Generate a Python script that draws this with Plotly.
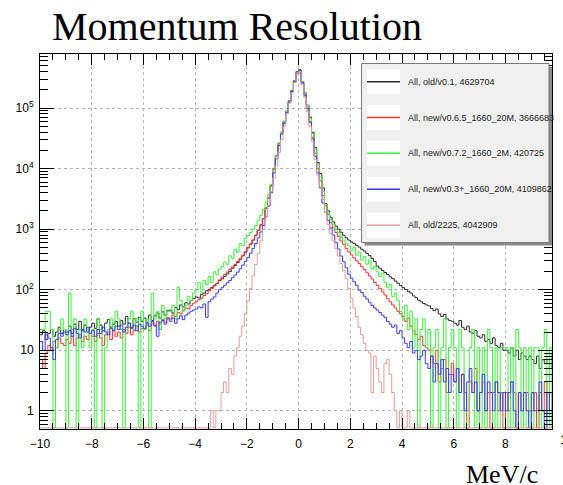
import numpy as np
import plotly.graph_objects as go

# ---------------- data (bin width 0.1, from -10 to 10) ----------------
bin_lo = -10.0
bin_hi = 10.0

legend_names = [
    "All, old/v0.1, 4629704",
    "All, new/v0.6.5_1660_20M, 3666683",
    "All, new/v0.7.2_1660_2M, 420725",
    "All, new/v0.3+_1660_20M, 4109862",
    "All, old/2225, 4042909",
]

old_v01 = [
    18, 21, 15, 19, 22, 17, 20, 24, 19, 22,
    20, 25, 19, 27, 22, 30, 21, 26, 20, 24,
    28, 23, 33, 26, 21, 28, 32, 24, 27, 30,
    25, 31, 27, 36, 28, 24, 33, 29, 35, 30,
    34, 29, 38, 31, 37, 41, 34, 43, 38, 45,
    46, 41, 51, 47, 56, 52, 61, 58, 66, 71,
    76, 73, 83, 88, 96, 101, 109, 119, 126, 141,
    151, 166, 182, 199, 226, 252, 281, 318, 362, 418,
    490, 565, 660, 790, 950, 1170, 1480, 2240, 3300, 5250,
    10000, 16600, 26300, 39800, 60300, 89100, 132000, 195000, 282000, 400000,
    430000, 272000, 178000, 112000, 70800, 39800, 22400, 12600, 8300, 4800,
    2630, 2000, 1580, 1320, 1120, 1000, 890, 790, 720, 660,
    615, 580, 540, 505, 465, 435, 398, 365, 328, 292,
    245, 226, 208, 192, 178, 163, 152, 139, 128, 117,
    108, 101, 94, 88, 79, 74, 67, 63, 59, 56,
    54, 49, 45, 48, 40, 36, 39, 33, 31, 30,
    28, 26, 31, 24, 22, 25, 20, 19, 21, 17,
    16, 18, 14, 15, 13, 16, 12, 11, 13, 10,
    10, 9, 11, 8, 10, 7, 9, 8, 7, 8,
    7, 6, 8, 5, 7, 6, 7, 5, 9, 11,
]

new_v065 = [
    7, 5, 9, 12, 10, 14, 11, 16, 13, 12,
    15, 13, 17, 12, 16, 18, 14, 17, 15, 19,
    17, 14, 19, 16, 12, 18, 20, 15, 21, 17,
    20, 16, 22, 19, 24, 18, 21, 25, 20, 23,
    22, 26, 21, 28, 25, 30, 27, 32, 29, 35,
    33, 38, 36, 42, 40, 46, 50, 48, 55, 60,
    63, 68, 72, 80, 86, 95, 105, 115, 128, 145,
    162, 178, 196, 215, 238, 262, 292, 330, 372, 425,
    495, 570, 665, 795, 955, 1175, 1490, 2200, 3250, 5150,
    9700, 16000, 25500, 38500, 58000, 86000, 127000, 186000, 268000, 370000,
    380000, 248000, 160000, 98000, 60000, 33000, 18000, 10000, 6300, 3600,
    2400, 1750, 1280, 1050, 880, 760, 640, 560, 480, 420,
    375, 335, 300, 270, 240, 215, 190, 168, 150, 132,
    118, 104, 92, 82, 72, 63, 56, 50, 44, 40,
    36, 30, 34, 25, 21, 18, 15, 17, 12, 11,
    10, 8, 6, 10, 3, 5, 7, 2, 4, 6,
    3, 5, 2, 4, 2, 0, 3, 2, 5, 1,
    2, 3, 1, 2, 0, 2, 3, 1, 2, 0,
    2, 1, 3, 2, 0, 2, 1, 2, 2, 1,
    1, 2, 0, 2, 1, 3, 1, 2, 0, 2,
]

new_v072 = [
    22, 22, 44, 44, 22, 0, 11, 22, 33, 22,
    0, 88, 22, 33, 0, 22, 11, 33, 22, 11,
    22, 0, 33, 22, 0, 11, 22, 33, 22, 44,
    33, 22, 0, 22, 33, 44, 22, 33, 0, 44,
    22, 33, 0, 88, 33, 44, 22, 55, 33, 44,
    44, 55, 33, 110, 66, 44, 55, 77, 66, 88,
    99, 132, 88, 143, 121, 165, 132, 198, 176, 220,
    242, 286, 264, 363, 330, 462, 418, 583, 539, 704,
    780, 880, 1000, 1150, 1400, 1700, 2100, 2750, 3700, 5500,
    9900, 16500, 26400, 40000, 60500, 88000, 130000, 192000, 278000, 395000,
    420000, 270000, 176000, 110000, 68000, 38000, 21000, 12000, 7500, 4300,
    2500, 1900, 1450, 1210, 990, 880, 748, 660, 572, 528,
    440, 506, 374, 418, 308, 352, 264, 308, 220, 242,
    198, 165, 187, 132, 110, 121, 77, 88, 66, 44,
    33, 55, 22, 44, 11, 33, 0, 22, 33, 11,
    22, 0, 11, 22, 0, 11, 33, 0, 11, 22,
    11, 0, 22, 11, 0, 0, 11, 22, 0, 11,
    0, 11, 0, 22, 11, 0, 11, 0, 11, 11,
    11, 0, 11, 0, 22, 11, 0, 11, 0, 11,
    0, 11, 11, 0, 11, 22, 0, 11, 0, 11,
]

new_v03 = [
    14, 10, 18, 16, 11, 7, 15, 19, 17, 20,
    18, 21, 17, 23, 19, 16, 22, 20, 24, 19,
    21, 17, 22, 19, 24, 20, 18, 23, 21, 25,
    22, 26, 20, 24, 28, 23, 26, 21, 27, 25,
    23, 28, 25, 30, 26, 17, 29, 31, 27, 33,
    30, 34, 28, 33, 37, 32, 38, 41, 44, 46,
    48, 52, 50, 58, 35, 63, 70, 76, 88, 100,
    108, 118, 130, 142, 158, 175, 195, 222, 255, 295,
    340, 400, 480, 580, 720, 900, 1150, 1600, 2400, 4000,
    8500, 14500, 24000, 37000, 56000, 84000, 126000, 188000, 275000, 392000,
    415000, 262000, 165000, 100000, 58000, 31000, 16000, 8500, 4800, 2700,
    1900, 1400, 1050, 800, 600, 470, 360, 290, 230, 180,
    155, 135, 118, 98, 90, 78, 70, 62, 55, 50,
    46, 42, 38, 35, 30, 27, 24, 26, 19, 21,
    16, 13, 11, 14, 9, 10, 7, 8, 10, 6,
    5, 8, 3, 6, 4, 7, 3, 5, 2, 4,
    3, 5, 2, 4, 1, 3, 5, 2, 3, 1,
    2, 4, 1, 3, 2, 1, 3, 2, 1, 2,
    1, 2, 3, 1, 0, 2, 1, 2, 1, 0,
    2, 1, 1, 3, 1, 0, 2, 1, 1, 2,
]

old_2225 = [
    0, 0, 0, 0, 0, 0, 0, 0, 0, 0,
    0, 0, 0, 0, 0, 0, 0, 0, 0, 0,
    0, 0, 0, 0, 0, 0, 0, 0, 0, 0,
    0, 0, 0, 0, 0, 0, 0, 0, 0, 0,
    0, 0, 0, 0, 0, 0, 0, 0, 0, 0,
    0, 0, 0, 0, 0, 0, 0, 0, 0, 0,
    0, 0, 0, 0, 0, 0, 1, 0, 1, 1,
    2, 3, 2, 5, 4, 8, 11, 17, 25, 40,
    65, 105, 170, 260, 400, 640, 1000, 1600, 2500, 4200,
    7000, 11200, 18600, 30200, 50100, 79400, 120000, 178000, 263000, 380000,
    400000, 245000, 150000, 88000, 50000, 28000, 14000, 8000, 5000, 3100,
    1900, 1200, 850, 640, 480, 360, 270, 205, 155, 105,
    72, 50, 36, 24, 18, 13, 10, 9, 2, 8,
    5, 3, 2, 6, 7, 4, 2, 1, 0, 1,
    0, 0, 1, 0, 0, 0, 0, 0, 0, 0,
    0, 0, 0, 0, 0, 0, 0, 0, 0, 0,
    0, 0, 0, 0, 0, 0, 0, 0, 0, 0,
    0, 0, 0, 0, 0, 0, 0, 0, 0, 0,
    0, 0, 0, 0, 0, 0, 0, 0, 0, 0,
    0, 0, 0, 0, 0, 0, 0, 0, 0, 0,
]

series = [old_v01, new_v065, new_v072, new_v03, old_2225]
colors = ["#2a2a2a", "#ff3535", "#3cf53c", "#3a3aff", "#e39c9c"]

x_tick_vals = [-10, -8, -6, -4, -2, 0, 2, 4, 6, 8]
y_tick_vals = [1, 10, 100, 1000, 10000, 100000]
y_tick_text = ["1", "10", "10<sup>2</sup>", "10<sup>3</sup>", "10<sup>4</sup>", "10<sup>5</sup>"]

# ---------------- figure ----------------
W, H = 563, 485
ML, MR, MT, MB = 40, 11, 54, 56
PW, PH = W - ML - MR, H - MT - MB

SANS = "Liberation Sans"
SERIF = "Liberation Serif"


def px(xp):
    return (xp - ML) / PW


def py(yp):
    return (H - MB - yp) / PH


ymin_log = np.log10(0.5)
ymax_log = ymin_log + PH / 60.54
floor_val = 10 ** (ymin_log + 1.2 / 60.54)

edges = np.round(np.linspace(bin_lo, bin_hi, len(old_v01) + 1), 3)

fig = go.Figure()
for vals, col, name in zip(series, colors, legend_names):
    v = np.maximum(np.array(vals, dtype=float), floor_val)
    y = np.append(v, v[-1])
    fig.add_trace(go.Scatter(
        x=edges, y=y, mode="lines", line=dict(color=col, width=1, shape="hv"),
        name=name, showlegend=False, hoverinfo="skip"))

minor_y = []
for d in range(-1, 6):
    for m in range(2, 10):
        v = m * 10 ** d
        if 0.5 < v < 10 ** ymax_log:
            minor_y.append(v)

tick_font = dict(family=SANS, size=12, color="#000")

fig.update_layout(
    width=W, height=H,
    margin=dict(l=ML, r=MR, t=MT, b=MB, pad=0),
    paper_bgcolor="white", plot_bgcolor="white",
    showlegend=False,
    font=dict(family=SANS, size=12, color="#000"),
    xaxis=dict(
        range=[-10, 9.8], tickmode="array", tickvals=x_tick_vals,
        ticks="inside", ticklen=11, tickcolor="#000", tickwidth=1,
        showline=True, linecolor="#000", linewidth=1, mirror="ticks",
        showgrid=True, gridcolor="#b4b4b4", griddash="dot", gridwidth=1,
        zeroline=False, tickfont=tick_font, ticklabelstandoff=4,
        minor=dict(dtick=0.5, tick0=0, ticks="inside", ticklen=6, tickcolor="#000", showgrid=False),
    ),
    yaxis=dict(
        type="log", range=[ymin_log, ymax_log], tickmode="array",
        tickvals=y_tick_vals, ticktext=y_tick_text,
        ticks="inside", ticklen=14, tickcolor="#000", tickwidth=1,
        showline=True, linecolor="#000", linewidth=1, mirror="ticks",
        showgrid=True, gridcolor="#b4b4b4", griddash="dot", gridwidth=1,
        zeroline=False, tickfont=tick_font, ticklabelstandoff=3,
        minor=dict(tickmode="array", tickvals=minor_y, ticks="inside", ticklen=8,
                   tickcolor="#000", showgrid=False),
    ),
)

# ---------------- legend (ROOT style box) ----------------
shapes = []
lx0, lx1, ly0, ly1 = 361.5, 549.0, 63.5, 242.5
shapes.append(dict(type="rect", xref="paper", yref="paper", layer="above",
                   x0=px(lx0 + 3), x1=px(lx1 + 3), y0=py(ly0 + 3), y1=py(ly1 + 3),
                   fillcolor="#8a8a8a", line=dict(width=0)))
shapes.append(dict(type="rect", xref="paper", yref="paper", layer="above",
                   x0=px(lx0), x1=px(lx1), y0=py(ly0), y1=py(ly1),
                   fillcolor="#f0f0f0", line=dict(color="#7a7a7a", width=1)))
annotations = []
entry_y = [81.7, 117.5, 153.3, 189.3, 225.3]
for name, col, ey in zip(legend_names, colors, entry_y):
    shapes.append(dict(type="rect", xref="paper", yref="paper", layer="above",
                       x0=px(367), x1=px(400), y0=py(ey - 12.5), y1=py(ey + 12.5),
                       fillcolor="#ffffff", line=dict(width=0)))
    shapes.append(dict(type="line", xref="paper", yref="paper", layer="above",
                       x0=px(367), x1=px(400), y0=py(ey), y1=py(ey),
                       line=dict(color=col, width=1.5)))
    annotations.append(dict(xref="paper", yref="paper", x=px(406), y=py(ey),
                            xanchor="left", yanchor="middle", showarrow=False,
                            text=name, font=dict(family=SANS, size=9, color="#1a1a1a")))

annotations.append(dict(xref="paper", yref="paper", x=px(50), y=py(27),
                        xanchor="left", yanchor="middle", showarrow=False,
                        text="Momentum Resolution",
                        font=dict(family=SERIF, size=40, color="#000")))
annotations.append(dict(xref="paper", yref="paper", x=px(464), y=py(474),
                        xanchor="left", yanchor="middle", showarrow=False,
                        text="MeV/c",
                        font=dict(family=SERIF, size=26, color="#000")))
annotations.append(dict(xref="paper", yref="paper", x=px(557.5), y=py(440),
                        xanchor="left", yanchor="middle", showarrow=False,
                        text="10", font=tick_font))

fig.update_layout(shapes=shapes, annotations=annotations)

fig.write_html("out.html")
